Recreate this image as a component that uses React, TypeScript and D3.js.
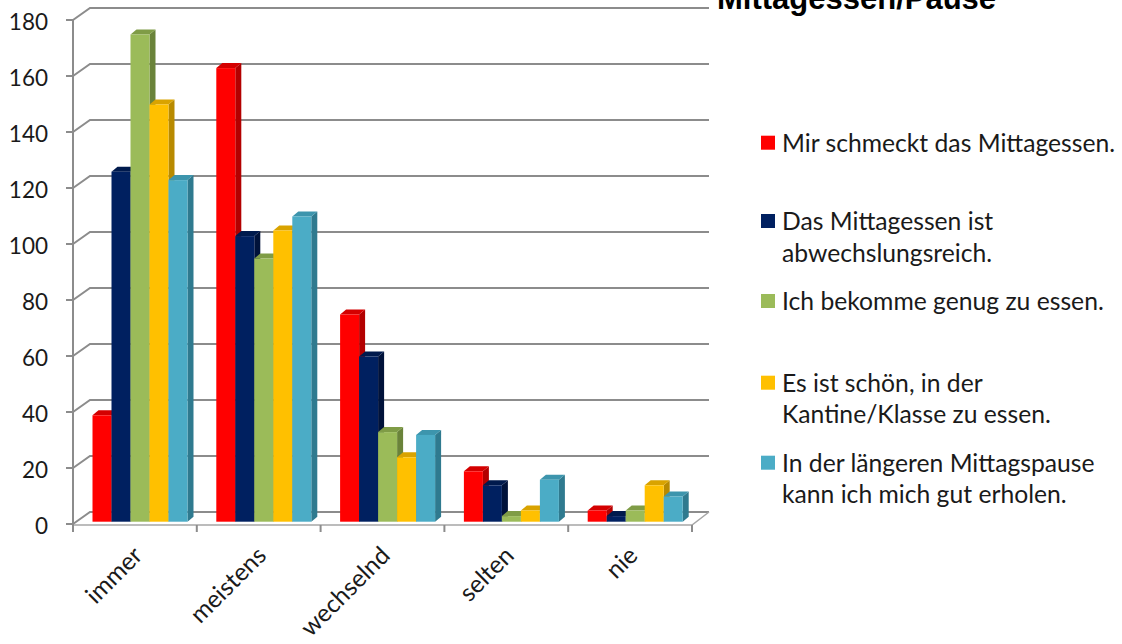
import React from "react";
import * as d3 from "d3";

const categories = ["immer", "meistens", "wechselnd", "selten", "nie"];
const seriesNames = [
  "Mir schmeckt das Mittagessen.",
  "Das Mittagessen ist abwechslungsreich.",
  "Ich bekomme genug zu essen.",
  "Es ist schön, in der Kantine/Klasse zu essen.",
  "In der längeren Mittagspause kann ich mich gut erholen.",
];
// legend text split into lines as in the picture
const legendLines = [
  ["Mir schmeckt das Mittagessen."],
  ["Das Mittagessen ist", "abwechslungsreich."],
  ["Ich bekomme genug zu essen."],
  ["Es ist schön, in der", "Kantine/Klasse zu essen."],
  ["In der längeren Mittagspause", "kann ich mich gut erholen."],
];
const frontColors = ["#ff0000", "#002060", "#9bbb59", "#ffc000", "#4bacc6"];
const topColors = ["#d40000", "#001a4d", "#7f9c46", "#d9a300", "#3d95ad"];
const sideColors = ["#b30000", "#00123a", "#6a833a", "#b88a00", "#2f7a8f"];

// values per series, in category order
const mirSchmeckt = [38, 162, 74, 18, 4];
const abwechslung = [125, 102, 59, 13, 2];
const genugEssen = [174, 94, 32, 2, 4];
const kantine = [149, 104, 23, 4, 13];
const erholen = [122, 109, 31, 15, 9];
const values = [mirSchmeckt, abwechslung, genugEssen, kantine, erholen];

const yTicks = [0, 20, 40, 60, 80, 100, 120, 140, 160, 180];

const W = 1122;
const H = 644;

// 3d wall offset (front -> back)
const DX = 17;
const DY = -12;
// bar depth
const BDX = 6;
const BDY = -5;
// bar front plane offset
const BOX = 3;
const BOY = -2.3;

const labelFont = "Lato, 'Open Sans', sans-serif";

export default function App() {
  const x = d3.scaleBand<string>().domain(categories).range([73, 692]);
  const xs = d3
    .scaleBand<number>()
    .domain(d3.range(seriesNames.length))
    .range([16.5, 16.5 + 95]);
  const y = d3.scaleLinear().domain([0, 180]).range([524, 20]);
  const grid = "#8c8c8c";

  const bars: React.ReactNode[] = [];
  categories.forEach((c, ci) => {
    values.forEach((vals, si) => {
      const v = vals[ci];
      const x0 = (x(c) as number) + (xs(si) as number) + BOX;
      const w = xs.bandwidth();
      const yb = y(0) + BOY;
      const yt = y(v) + BOY;
      const side = `M${x0 + w},${yt} L${x0 + w + BDX},${yt + BDY} L${x0 + w + BDX},${yb + BDY} L${x0 + w},${yb} Z`;
      const top = `M${x0},${yt} L${x0 + BDX},${yt + BDY} L${x0 + w + BDX},${yt + BDY} L${x0 + w},${yt} Z`;
      bars.push(
        <g key={`${ci}-${si}`}>
          <path d={side} fill={sideColors[si]} />
          <path d={top} fill={topColors[si]} />
          <rect x={x0} y={yt} width={w} height={yb - yt} fill={frontColors[si]} />
        </g>
      );
    });
  });

  const legendBase = [151.7, 230, 310, 391.7, 471.7];

  return (
    <svg
      width={W}
      height={H}
      style={{ position: "absolute", left: 0, top: 0, background: "#fff" }}
      fontFamily={labelFont}
    >
      {/* walls: gridlines with side diagonals */}
      {yTicks.map((t) => (
        <path
          key={t}
          d={`M73,${y(t)} L${73 + DX},${y(t) + DY} L${692 + DX},${y(t) + DY}`}
          fill="none"
          stroke={grid}
          strokeWidth={2}
        />
      ))}
      {/* floor front edge */}
      <path
        d={`M73,${y(0) + 1} L692,${y(0) + 1} L${692 + DX},${y(0) + DY}`}
        fill="none"
        stroke="#a6a6a6"
        strokeWidth={1.5}
      />
      {/* vertical axis */}
      <line x1={73} x2={73} y1={y(180)} y2={y(0) + 1} stroke={grid} strokeWidth={2} />
      {yTicks.map((t) => (
        <line key={t} x1={66} x2={73} y1={y(t)} y2={y(t)} stroke={grid} strokeWidth={2} />
      ))}
      {/* category ticks */}
      {[...categories.map((c) => x(c) as number), 692].map((px, i) => (
        <line key={i} x1={px} x2={px} y1={y(0) + 1} y2={y(0) + 8} stroke={grid} strokeWidth={2} />
      ))}

      {bars}

      {/* y labels */}
      {yTicks.map((t) => (
        <text
          key={t}
          x={48}
          y={y(t) + 1}
          textAnchor="end"
          dominantBaseline="central"
          fontSize={22.5}
          fill="#1a1a1a"
        >
          {t}
        </text>
      ))}

      {/* category labels */}
      {categories.map((c) => {
        const cx = (x(c) as number) + x.bandwidth() / 2;
        return (
          <text
            key={c}
            transform={`translate(${cx + 9},${557}) rotate(-45)`}
            textAnchor="end"
            fontSize={24.5}
            fill="#1a1a1a"
          >
            {c}
          </text>
        );
      })}

      {/* title */}
      <text
        x={717}
        y={9}
        fontFamily="'Liberation Sans', Arial, sans-serif"
        fontWeight="bold"
        fontSize={31}
        fill="#000"
      >
        Mittagessen/Pause
      </text>

      {/* legend */}
      {legendLines.map((lines, i) => (
        <g key={i}>
          <rect x={761} y={legendBase[i] - 16} width={14} height={14} fill={frontColors[i]} />
          {lines.map((ln, j) => (
            <text key={j} x={782} y={legendBase[i] + j * 31.6} fontSize={24.7} fill="#1a1a1a">
              {ln}
            </text>
          ))}
        </g>
      ))}
    </svg>
  );
}
